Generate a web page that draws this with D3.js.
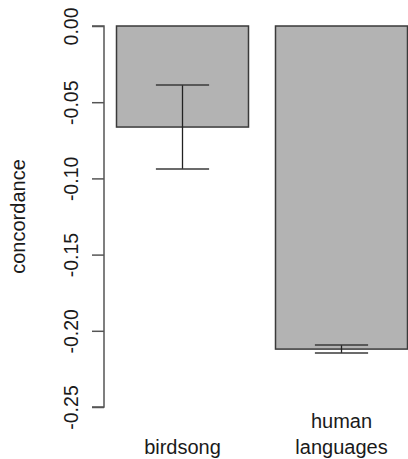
<!DOCTYPE html>
<html>
<head>
<meta charset="utf-8">
<script src="https://cdn.jsdelivr.net/npm/d3@7"></script>
<style>
  html, body { margin: 0; padding: 0; background: #ffffff; }
  svg { display: block; }
  text { font-family: "Liberation Sans", Arial, Helvetica, sans-serif; fill: #1a1a1a; }
</style>
</head>
<body>
<script>
// ---- data ----
const categories = ["birdsong", "human languages"];
const categoryLines = [["birdsong"], ["human", "languages"]];
const means = [-0.0663, -0.2120];
const errUpper = [-0.0387, -0.2093];
const errLower = [-0.0938, -0.2146];
const yTicks = [0.00, -0.05, -0.10, -0.15, -0.20, -0.25];
const yLabel = "concordance";

// ---- layout ----
const W = 408, H = 459;
const svg = d3.select("body").append("svg").attr("width", W).attr("height", H);

const y = d3.scaleLinear().domain([-0.25, 0]).range([407, 26]);
const x = d3.scaleBand().domain(categories).range([116, 408]).paddingInner(0.1635).paddingOuter(0);

const lineCol = "#3a3a3a";

// bars
svg.selectAll("rect.bar").data(categories).enter().append("rect")
  .attr("class", "bar")
  .attr("x", d => x(d) + 0.5)
  .attr("y", (d, i) => y(0))
  .attr("width", x.bandwidth() - 1)
  .attr("height", (d, i) => y(means[i]) - y(0))
  .attr("fill", "#b3b3b3")
  .attr("stroke", lineCol)
  .attr("stroke-width", 1.5);

// error bars
const capW = x.bandwidth() * 0.4;
categories.forEach((c, i) => {
  const cx = x(c) + x.bandwidth() / 2;
  svg.append("line").attr("x1", cx).attr("x2", cx)
    .attr("y1", y(errUpper[i])).attr("y2", y(errLower[i]))
    .attr("stroke", "#222").attr("stroke-width", 1.3);
  [errUpper[i], errLower[i]].forEach(v => {
    svg.append("line").attr("x1", cx - capW / 2).attr("x2", cx + capW / 2)
      .attr("y1", y(v)).attr("y2", y(v))
      .attr("stroke", lineCol).attr("stroke-width", 1.5);
  });
});

// y axis
const axis = d3.axisLeft(y).tickValues(yTicks).tickSize(12).tickFormat(d3.format(".2f"));
const gAxis = svg.append("g").attr("transform", "translate(104,0)").call(axis);
gAxis.select(".domain").attr("stroke", "#555").attr("stroke-width", 1.5)
  .attr("d", `M-12,${y(0)}H0V${y(-0.25)}H-12`);
gAxis.selectAll(".tick line").attr("stroke", "#555").attr("stroke-width", 1.5);
gAxis.selectAll(".tick text")
  .attr("x", 0).attr("y", 0).attr("dy", null)
  .attr("transform", "translate(-26,0) rotate(-90)")
  .attr("text-anchor", "middle")
  .style("font-family", "'Liberation Sans', Arial, sans-serif")
  .style("font-size", "19.5px")
  .attr("fill", "#1a1a1a")
  .text(d => d3.format(".2f")(d).replace("−", "-"));

// y label
svg.append("text")
  .attr("transform", `translate(25,${(y(0) + y(-0.25)) / 2}) rotate(-90)`)
  .attr("text-anchor", "middle")
  .style("font-size", "20px")
  .text(yLabel);

// x labels
categoryLines.forEach((lines, i) => {
  const cx = x(categories[i]) + x.bandwidth() / 2;
  const n = lines.length;
  lines.forEach((t, j) => {
    svg.append("text")
      .attr("x", cx)
      .attr("y", 454 - (n - 1 - j) * 26)
      .attr("text-anchor", "middle")
      .style("font-size", "20px")
      .text(t);
  });
});
</script>
</body>
</html>
